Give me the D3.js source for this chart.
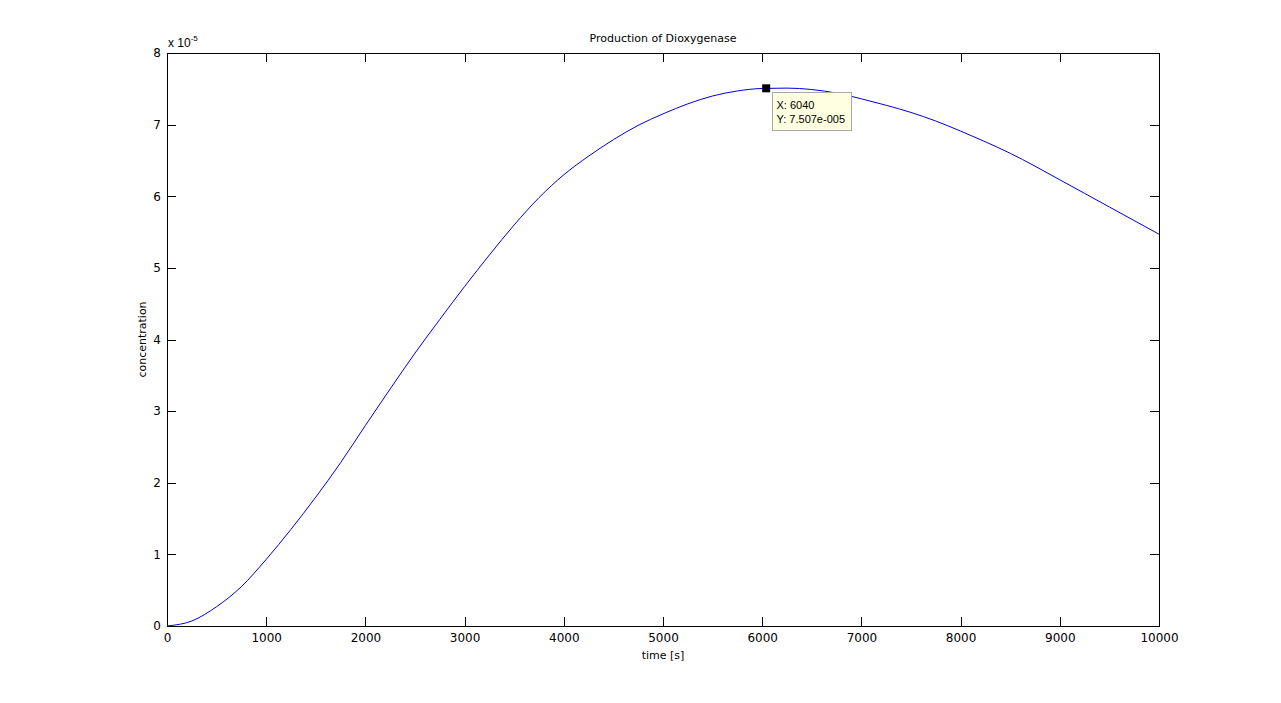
<!DOCTYPE html>
<meta charset="utf-8">
<head>
  <title>Production of Dioxygenase</title>
</head>
<style>
body { margin: 0; background: #fff; }
text { font-family: "DejaVu Sans", sans-serif; font-size: 11px; fill: #000; }
.curve { fill: none; stroke: #0000dc; stroke-width: 1px; }
.frame { fill: none; stroke: #000; stroke-width: 1px; shape-rendering: crispEdges; }
.tick line { stroke: #000; shape-rendering: crispEdges; }
.tip text { font-family: "Liberation Sans", Arial, sans-serif; font-size: 11px; }
</style>
<body>
<script src="https://d3js.org/d3.v7.min.js"></script>
<script>
// time [s]
var times = [0, 250, 500, 750, 1000, 1250, 1500, 1750, 2000, 2250, 2500, 2750, 3000, 3250,
  3500, 3750, 4000, 4250, 4500, 4750, 5000, 5250, 5500, 5750, 6000, 6250, 6500, 6750,
  7000, 7250, 7500, 7750, 8000, 8250, 8500, 8750, 9000, 9250, 9500, 9750, 10000]
// concentration, in units of 1e-5
var conc = [0, 0.07, 0.27, 0.55, 0.93, 1.35, 1.80, 2.28, 2.80, 3.31, 3.81, 4.28, 4.74, 5.18,
  5.60, 5.98, 6.30, 6.56, 6.79, 6.99, 7.15, 7.29, 7.40, 7.47, 7.505, 7.51, 7.49, 7.44,
  7.36, 7.27, 7.17, 7.05, 6.91, 6.76, 6.60, 6.42, 6.23, 6.04, 5.85, 5.66, 5.47]
var xTicks = [0, 1000, 2000, 3000, 4000, 5000, 6000, 7000, 8000, 9000, 10000]
var yTicks = [0, 1, 2, 3, 4, 5, 6, 7, 8]
var tipX = 6040, tipY = 7.507

var width = 1281, height = 703
// plot box (note: "top" is a reserved window global, so use a box object)
var box = {l: 167, t: 53, r: 1159, b: 626}

var svg = d3.select("body").append("svg")
    .attr("width", width)
    .attr("height", height)

var x = d3.scaleLinear().domain([0, 10000]).range([box.l, box.r])
var y = d3.scaleLinear().domain([0, 8]).range([box.b, box.t])

var tickLen = 9

// axes (ticks pointing inward, mirrored on top/right)
svg.append("g")
    .attr("transform", "translate(0," + box.b + ")")
    .call(d3.axisBottom(x).tickValues(xTicks).tickSize(-tickLen).tickPadding(7).tickFormat(d3.format("d")))
    .call(function(g){ g.select(".domain").remove() })
svg.append("g")
    .attr("transform", "translate(0," + box.t + ")")
    .call(d3.axisTop(x).tickValues(xTicks).tickSize(-tickLen).tickFormat(""))
    .call(function(g){ g.select(".domain").remove() })
svg.append("g")
    .attr("transform", "translate(" + box.l + ",0)")
    .call(d3.axisLeft(y).tickValues(yTicks).tickSize(-tickLen).tickPadding(6).tickFormat(d3.format("d")))
    .call(function(g){ g.select(".domain").remove() })
svg.append("g")
    .attr("transform", "translate(" + box.r + ",0)")
    .call(d3.axisRight(y).tickValues(yTicks).tickSize(-tickLen).tickFormat(""))
    .call(function(g){ g.select(".domain").remove() })

svg.selectAll(".tick text")
    .style("font-family", "'DejaVu Sans', sans-serif")
    .style("font-size", "12px")
    .style("fill", "#000")

svg.append("rect")
    .attr("class", "frame")
    .attr("x", box.l + 0.5).attr("y", box.t + 0.5)
    .attr("width", box.r - box.l).attr("height", box.b - box.t)

// curve
var pts = times.map(function(t, i){ return [t, conc[i]] })
var line = d3.line()
    .x(function(d){ return x(d[0]) })
    .y(function(d){ return y(d[1]) })
    .curve(d3.curveMonotoneX)

svg.append("path")
    .datum(pts)
    .attr("class", "curve")
    .attr("d", line)

// exponent label
var ex = svg.append("text").attr("x", box.l + 1).attr("y", 47)
    .style("font-family", "'Liberation Sans', Arial, sans-serif").style("font-size", "12px")
ex.append("tspan").text("x 10")
ex.append("tspan").attr("dy", -6).style("font-size", "8px").text("-5")

// title and axis labels
svg.append("text")
    .attr("x", (box.l + box.r) / 2).attr("y", 42)
    .attr("text-anchor", "middle")
    .text("Production of Dioxygenase")

svg.append("text")
    .attr("x", (box.l + box.r) / 2).attr("y", 659)
    .attr("text-anchor", "middle")
    .text("time [s]")

svg.append("text")
    .attr("transform", "translate(146," + ((box.t + box.b) / 2) + ") rotate(-90)")
    .attr("text-anchor", "middle")
    .text("concentration")

// data tip
var mx = x(tipX), my = y(tipY)
svg.append("rect")
    .attr("x", mx - 4).attr("y", my - 4)
    .attr("width", 8).attr("height", 8)
    .attr("fill", "#000")

var tip = svg.append("g").attr("class", "tip")
    .attr("transform", "translate(" + (Math.round(mx) + 6.5) + "," + (Math.round(my) + 4.5) + ")")
tip.append("rect")
    .attr("width", 79).attr("height", 38)
    .attr("fill", "#ffffe1")
    .attr("stroke", "#a8a8a8")
tip.append("text").attr("x", 4).attr("y", 16).text("X: " + tipX)
tip.append("text").attr("x", 4).attr("y", 30).text("Y: 7.507e-005")
</script>
</body>
</html>
